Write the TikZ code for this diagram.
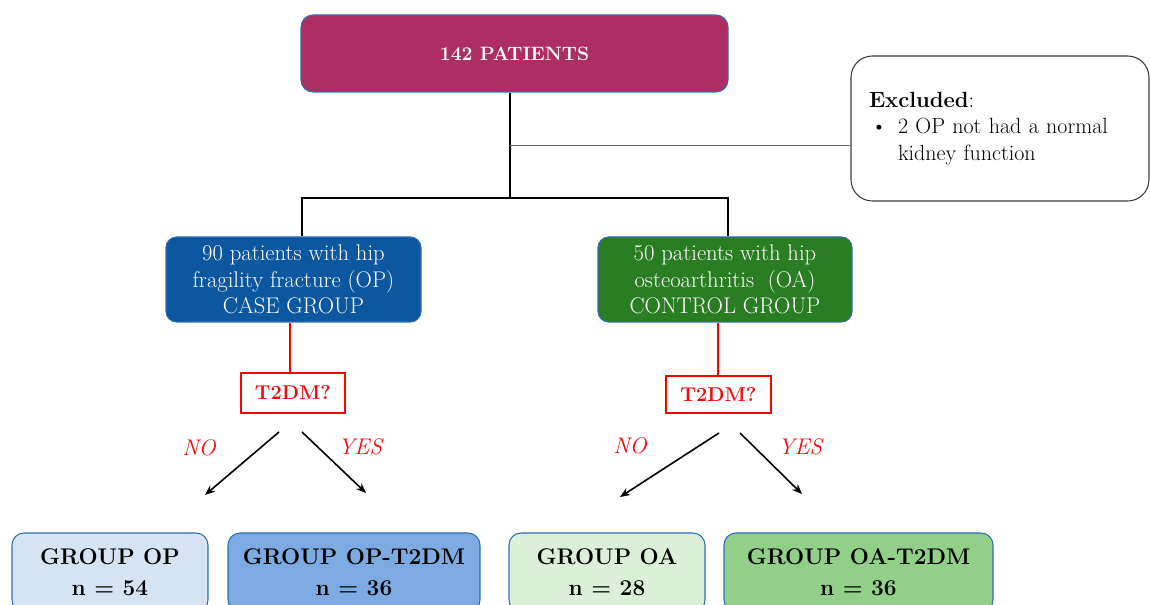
\documentclass[tikz,border=0pt]{standalone}
\usetikzlibrary{arrows.meta}
\definecolor{topc}{RGB}{173,46,99}
\definecolor{bluec}{RGB}{12,88,160}
\definecolor{greenc}{RGB}{43,125,36}
\definecolor{edgec}{RGB}{46,110,180}
\definecolor{opl}{RGB}{214,227,243}
\definecolor{opd}{RGB}{125,170,224}
\definecolor{oal}{RGB}{220,239,216}
\definecolor{oad}{RGB}{146,207,136}
\definecolor{txtred}{RGB}{240,10,15}
\definecolor{exedge}{RGB}{60,60,60}
\begin{document}
\begin{tikzpicture}[x=0.75pt,y=-0.75pt,
  box/.style={draw=edgec, line width=0.8pt, inner sep=0pt, align=center},
  mainbox/.style={box, rounded corners=8pt, text=white, font=\fontsize{17}{19.9}\selectfont},
  groupbox/.style={box, rounded corners=9pt, text=black, minimum height=59.25pt, font=\fontsize{17}{23.25}\selectfont\bfseries},
  qbox/.style={draw=red, line width=0.8pt, inner sep=0pt, text=txtred, font=\fontsize{15}{18}\selectfont\bfseries},
  lab/.style={text=txtred, font=\fontsize{17}{19}\selectfont\itshape},
  arr/.style={line width=1.2pt, -{Stealth[length=7.5pt,width=6pt]}},
  conn/.style={line width=1.3pt}]
\clip (0,0) rectangle (1150,605);
\useasboundingbox (0,0) rectangle (1150,605);
% top
\node[box, rounded corners=9pt, fill=topc, text=white, minimum width=320.25pt, minimum height=57.75pt,
      font=\fontsize{14.5}{18}\selectfont\bfseries] (top) at (514.5,53.5) {142 PATIENTS};
% excluded
\node[draw=exedge, line width=0.8pt, rounded corners=16pt, fill=white, minimum width=223.5pt, minimum height=108.75pt,
      inner xsep=13.5pt, inner ysep=0pt, text width=196.5pt, align=left,
      font=\fontsize{16.5}{20.25}\selectfont] (excl) at (1000,128.5)
  {\textbf{Excluded}:\\[-1pt]
   \makebox[21.75pt][l]{\hspace*{1.5pt}\textbullet}2 OP not had a normal\\
   \hspace*{21.75pt}kidney function};
% groups
\node[mainbox, fill=bluec, minimum width=191.25pt, minimum height=63.75pt] (left) at (293.5,279.5)
  {90 patients with hip\\fragility fracture (OP)\\CASE GROUP};
\node[mainbox, fill=greenc, minimum width=190.5pt, minimum height=63.75pt] (right) at (725,279.5)
  {50 patients with hip\\osteoarthritis\ \ (OA)\\CONTROL GROUP};
% questions
\node[qbox, minimum width=78pt, minimum height=30pt] (lq) at (293,393) {T2DM?};
\node[qbox, minimum width=78.75pt, minimum height=27.75pt] (rq) at (718.5,394.5) {T2DM?};
% bottom boxes
\node[groupbox, fill=opl, minimum width=147pt] (gop) at (110,572.5) {GROUP OP\\n = 54};
\node[groupbox, fill=opd, minimum width=189pt] (gopt) at (354,572.5) {GROUP OP-T2DM\\n = 36};
\node[groupbox, fill=oal, minimum width=147pt] (goa) at (607,572.5) {GROUP OA\\n = 28};
\node[groupbox, fill=oad, minimum width=201.75pt] (goat) at (858.5,572.5) {GROUP OA-T2DM\\n = 36};
% tree connectors
\coordinate (tj) at (510,198);
\coordinate (jl) at (302,198);
\coordinate (jr) at (728,198);
\coordinate (ex) at (510,145);
\draw[conn] (tj |- top.south) -- (tj);
\draw[conn] (jl |- left.north) -- (jl) -- (jr) -- (jr |- right.north);
\draw[line width=0.6pt, black!60] (ex) -- (ex -| excl.west);
\draw[red, line width=1.2pt] (lq.north -| 290,0) -- (left.south -| 290,0);
\draw[red, line width=1.2pt] (rq.north -| 718,0) -- (right.south -| 718,0);
% arrows
\coordinate (la1) at (279,432); \coordinate (la1e) at (205,495);
\coordinate (la2) at (302,432); \coordinate (la2e) at (366,493);
\coordinate (ra1) at (719,433); \coordinate (ra1e) at (620,497);
\coordinate (ra2) at (740,433); \coordinate (ra2e) at (802,494);
\draw[arr] (la1) -- (la1e);
\draw[arr] (la2) -- (la2e);
\draw[arr] (ra1) -- (ra1e);
\draw[arr] (ra2) -- (ra2e);
\node[lab] (lno) at (199,448) {NO};
\node[lab] (lyes) at (360,447) {YES};
\node[lab] (rno) at (630,446) {NO};
\node[lab] (ryes) at (800,447) {YES};
\end{tikzpicture}
\end{document}
